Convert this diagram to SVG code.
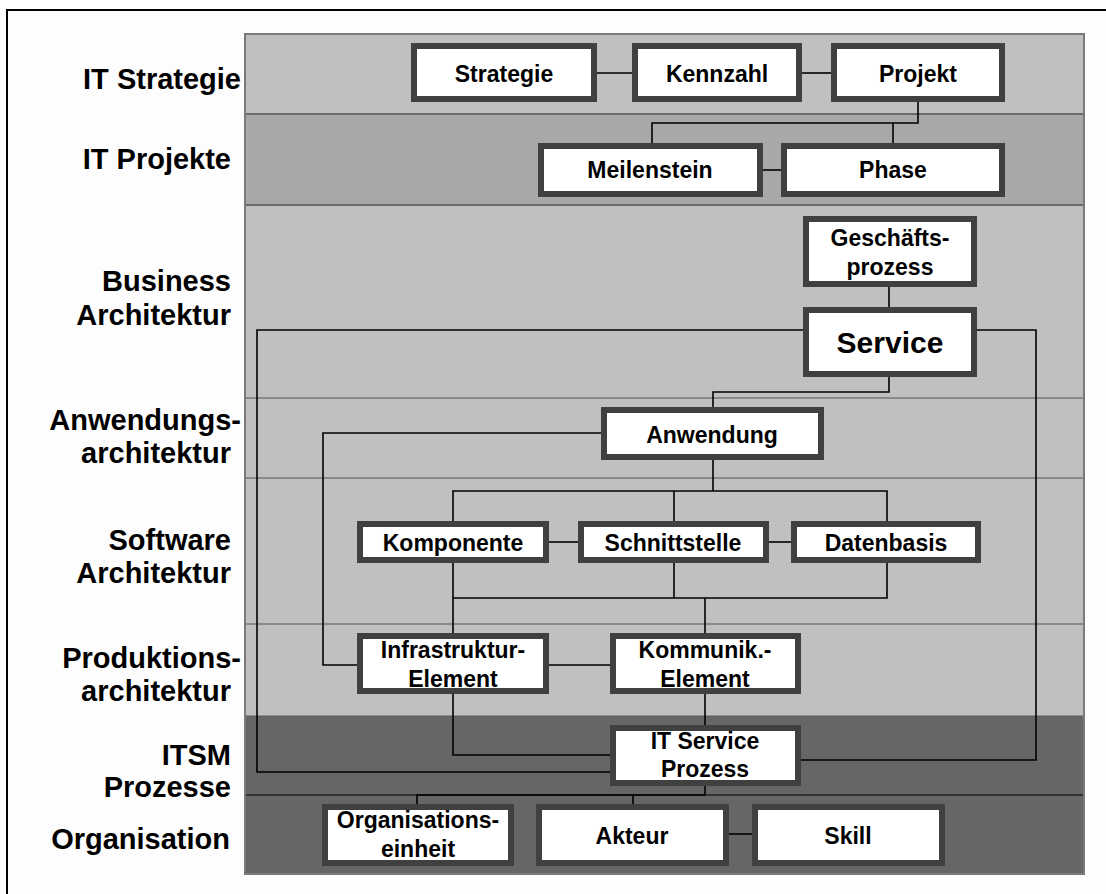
<svg xmlns="http://www.w3.org/2000/svg" width="1106" height="894" viewBox="0 0 1106 894">
  <style>
    .lbl { font-family: "Liberation Sans", Arial, sans-serif; font-weight: bold; font-size: 29px; fill: #000; text-anchor: end; }
    .box { fill: #ffffff; stroke: #404040; stroke-width: 6; }
    .txt { font-family: "Liberation Sans", Arial, sans-serif; font-weight: bold; font-size: 23px; fill: #000; text-anchor: middle; }
    .big { font-size: 30px; }
    .con { fill: none; stroke: #000; stroke-width: 1.6; }
    .sep { stroke: #8a8a8a; stroke-width: 2; }
  </style>

  <!-- page -->
  <rect x="0" y="0" width="1106" height="894" fill="#fdfdfd"/>
  <path d="M7,894 V10 H1106" fill="none" stroke="#000" stroke-width="2"/>

  <!-- layer bands -->
  <g id="bands">
    <rect x="245" y="34" width="839" height="80" fill="#c0c0c0"/>
    <rect x="245" y="114" width="839" height="91" fill="#a8a8a8"/>
    <rect x="245" y="205" width="839" height="511" fill="#c0c0c0"/>
    <rect x="245" y="716" width="839" height="158" fill="#666666"/>
    <line x1="245" y1="114" x2="1084" y2="114" stroke="#6a6a6a" stroke-width="2"/>
    <line x1="245" y1="205" x2="1084" y2="205" stroke="#6a6a6a" stroke-width="2"/>
    <line class="sep" x1="245" y1="398" x2="1084" y2="398"/>
    <line class="sep" x1="245" y1="478" x2="1084" y2="478"/>
    <line class="sep" x1="245" y1="624" x2="1084" y2="624"/>
    <line x1="245" y1="716" x2="1084" y2="716" stroke="#5a5a5a" stroke-width="1"/>
    <line x1="245" y1="795" x2="1084" y2="795" stroke="#333" stroke-width="2"/>
    <rect x="245" y="34" width="839" height="840" fill="none" stroke="#7a7a7a" stroke-width="2"/>
  </g>

  <!-- layer labels -->
  <g id="labels">
    <text class="lbl" x="241" y="89">IT Strategie</text>
    <text class="lbl" x="231" y="169">IT Projekte</text>
    <text class="lbl" x="231" y="291">Business</text>
    <text class="lbl" x="231" y="325">Architektur</text>
    <text class="lbl" x="241" y="430">Anwendungs-</text>
    <text class="lbl" x="231" y="463">architektur</text>
    <text class="lbl" x="231" y="550">Software</text>
    <text class="lbl" x="231" y="583">Architektur</text>
    <text class="lbl" x="241" y="668">Produktions-</text>
    <text class="lbl" x="231" y="701">architektur</text>
    <text class="lbl" x="231" y="765">ITSM</text>
    <text class="lbl" x="231" y="797">Prozesse</text>
    <text class="lbl" x="230" y="849">Organisation</text>
  </g>

  <!-- connectors -->
  <g id="connectors">
    <path class="con" d="M597,73 H632"/>
    <path class="con" d="M802,73 H831"/>
    <path class="con" d="M918,102 V123 H652 V143"/>
    <path class="con" d="M893,123 V143"/>
    <path class="con" d="M763,170 H781"/>
    <path class="con" d="M889,287 V307"/>
    <path class="con" d="M803,330 H257 V772 H610"/>
    <path class="con" d="M977,330 H1036 V760 H801"/>
    <path class="con" d="M889,377 V392 H713 V407"/>
    <path class="con" d="M601,433 H323 V665 H357"/>
    <path class="con" d="M713,460 V491"/>
    <path class="con" d="M453,521 V491 H887 V521"/>
    <path class="con" d="M674,491 V521"/>
    <path class="con" d="M549,542 H578"/>
    <path class="con" d="M769,542 H791"/>
    <path class="con" d="M453,563 V633"/>
    <path class="con" d="M674,563 V598"/>
    <path class="con" d="M887,563 V598 H453"/>
    <path class="con" d="M705,598 V633"/>
    <path class="con" d="M549,665 H610"/>
    <path class="con" d="M453,693 V755 H610"/>
    <path class="con" d="M705,693 V725"/>
    <path class="con" d="M705,786 V795 H417 V804"/>
    <path class="con" d="M633,795 V804"/>
    <path class="con" d="M729,834 H752"/>
  </g>

  <!-- nodes -->
  <g id="strategie">
    <rect class="box" x="414" y="46" width="180" height="53"/>
    <text class="txt" x="504" y="82">Strategie</text>
  </g>
  <g id="kennzahl">
    <rect class="box" x="635" y="46" width="164" height="53"/>
    <text class="txt" x="717" y="82">Kennzahl</text>
  </g>
  <g id="projekt">
    <rect class="box" x="834" y="46" width="168" height="53"/>
    <text class="txt" x="918" y="82">Projekt</text>
  </g>
  <g id="meilenstein">
    <rect class="box" x="541" y="146" width="219" height="48"/>
    <text class="txt" x="650" y="178">Meilenstein</text>
  </g>
  <g id="phase">
    <rect class="box" x="784" y="146" width="218" height="48"/>
    <text class="txt" x="893" y="178">Phase</text>
  </g>
  <g id="geschaeftsprozess">
    <rect class="box" x="806" y="219" width="168" height="65"/>
    <text class="txt" x="890" y="246">Geschäfts-</text>
    <text class="txt" x="890" y="275">prozess</text>
  </g>
  <g id="service">
    <rect class="box" x="806" y="310" width="168" height="64"/>
    <text class="txt big" x="890" y="353">Service</text>
  </g>
  <g id="anwendung">
    <rect class="box" x="604" y="410" width="217" height="47"/>
    <text class="txt" x="712" y="443">Anwendung</text>
  </g>
  <g id="komponente">
    <rect class="box" x="360" y="524" width="186" height="36"/>
    <text class="txt" x="453" y="551">Komponente</text>
  </g>
  <g id="schnittstelle">
    <rect class="box" x="581" y="524" width="185" height="36"/>
    <text class="txt" x="673" y="551">Schnittstelle</text>
  </g>
  <g id="datenbasis">
    <rect class="box" x="794" y="524" width="184" height="36"/>
    <text class="txt" x="886" y="551">Datenbasis</text>
  </g>
  <g id="infrastruktur-element">
    <rect class="box" x="360" y="636" width="186" height="55"/>
    <text class="txt" x="453" y="658">Infrastruktur-</text>
    <text class="txt" x="453" y="687">Element</text>
  </g>
  <g id="kommunikations-element">
    <rect class="box" x="613" y="636" width="185" height="55"/>
    <text class="txt" x="705" y="658">Kommunik.-</text>
    <text class="txt" x="705" y="687">Element</text>
  </g>
  <g id="it-service-prozess">
    <rect class="box" x="613" y="728" width="185" height="55"/>
    <text class="txt" x="705" y="749">IT Service</text>
    <text class="txt" x="705" y="777">Prozess</text>
  </g>
  <g id="organisationseinheit">
    <rect class="box" x="325" y="807" width="186" height="56"/>
    <text class="txt" x="418" y="828">Organisations-</text>
    <text class="txt" x="418" y="857">einheit</text>
  </g>
  <g id="akteur">
    <rect class="box" x="539" y="807" width="187" height="56"/>
    <text class="txt" x="632" y="844">Akteur</text>
  </g>
  <g id="skill">
    <rect class="box" x="755" y="807" width="187" height="56"/>
    <text class="txt" x="848" y="844">Skill</text>
  </g>
</svg>
